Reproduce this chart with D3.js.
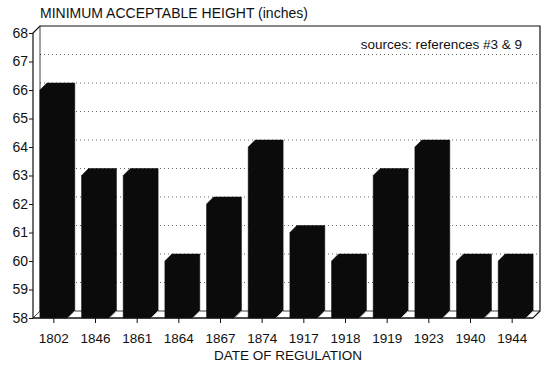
<!DOCTYPE html>
<html>
<head>
<meta charset="utf-8">
<script src="https://cdn.jsdelivr.net/npm/d3@7"></script>
<style>
  body { margin: 0; background: #fff; }
  svg { display: block; font-family: "Liberation Sans", Arial, Helvetica, sans-serif; }
</style>
</head>
<body>
<div class="chart"></div>
<script>
// chart data
const years = ['1802', '1846', '1861', '1864', '1867', '1874', '1917', '1918', '1919', '1923', '1940', '1944'];
const heights = [66, 63, 63, 60, 62, 64, 61, 60, 63, 64, 60, 60];
const yTicks = [58, 59, 60, 61, 62, 63, 64, 65, 66, 67, 68];

const width = 550, height = 367;
const depth = 7; // 3d offset
const plotLeft = 33, plotRight = 533, plotBottom = 318, plotTop = 33;

const svg = d3.select('.chart').append('svg')
  .attr('width', width)
  .attr('height', height);

const x = d3.scaleBand().domain(years).range([plotLeft, plotRight])
  .paddingInner(0.33).paddingOuter(0.165);
const y = d3.scaleLinear().domain([58, 68]).range([plotBottom, plotTop]);

// back wall gridlines (dotted)
svg.append('g').selectAll('line').data(yTicks.slice(1, -1)).enter().append('line')
  .attr('x1', plotLeft + depth).attr('x2', plotRight + depth)
  .attr('y1', d => y(d) - depth).attr('y2', d => y(d) - depth)
  .attr('stroke', '#666').attr('stroke-width', 1)
  .attr('stroke-dasharray', '1,3');

// frame: axis, back wall and floor outline
const frame = svg.append('g').attr('fill', 'none').attr('stroke', '#111').attr('stroke-width', 1.2);
frame.append('path').attr('d',
  'M' + plotLeft + ',' + plotBottom + 'L' + plotLeft + ',' + plotTop +
  'L' + (plotLeft + depth) + ',' + (plotTop - depth) +
  'L' + (plotRight + depth) + ',' + (plotTop - depth) +
  'L' + (plotRight + depth) + ',' + (plotBottom - depth) +
  'L' + plotRight + ',' + plotBottom + 'Z');
frame.append('path').attr('d',
  'M' + (plotLeft + depth) + ',' + (plotTop - depth) + 'L' + (plotLeft + depth) + ',' + (plotBottom - depth) +
  'L' + (plotRight + depth) + ',' + (plotBottom - depth) +
  'M' + plotLeft + ',' + plotBottom + 'L' + (plotLeft + depth) + ',' + (plotBottom - depth))
  .attr('stroke-width', 0.8);

// bars with a top face and right side
const bw = x.bandwidth();
svg.append('g').selectAll('.bar').data(years).enter().append('path')
  .attr('class', 'bar')
  .attr('fill', '#0b0b0b')
  .attr('stroke', '#0b0b0b')
  .attr('stroke-width', 0.5)
  .attr('d', function(d, i) {
    const x0 = x(d), x1 = x(d) + bw, vy = y(heights[i]);
    return 'M' + x0 + ',' + plotBottom + 'L' + x0 + ',' + vy +
      'L' + (x0 + depth) + ',' + (vy - depth) +
      'L' + (x1 + depth) + ',' + (vy - depth) +
      'L' + (x1 + depth) + ',' + (plotBottom - depth) +
      'L' + x1 + ',' + plotBottom + 'Z';
  });

// floor edges in front of bars
svg.append('g').selectAll('line').data(years).enter().append('line')
  .attr('x1', d => x(d) + bw).attr('y1', plotBottom)
  .attr('x2', d => x(d) + bw + depth).attr('y2', plotBottom - depth)
  .attr('stroke', '#fff').attr('stroke-width', 0.8);
svg.append('line').attr('x1', plotLeft).attr('x2', plotRight)
  .attr('y1', plotBottom).attr('y2', plotBottom)
  .attr('stroke', '#111').attr('stroke-width', 1.2);

// y axis
const yAxis = svg.append('g')
  .attr('transform', 'translate(' + plotLeft + ',0)')
  .call(d3.axisLeft(y).tickValues(yTicks).tickSize(4).tickPadding(1).tickSizeOuter(0));
yAxis.select('.domain').remove();
yAxis.selectAll('text').attr('font-size', '14px').attr('fill', '#111').attr('font-family', null);
yAxis.selectAll('line').attr('stroke', '#111');

// x axis
const xAxis = svg.append('g')
  .attr('transform', 'translate(0,' + plotBottom + ')')
  .call(d3.axisBottom(x).tickSize(5).tickPadding(10).tickSizeOuter(0));
xAxis.select('.domain').remove();
xAxis.selectAll('text').attr('font-size', '13.5px').attr('fill', '#111').attr('font-family', null);
xAxis.selectAll('line').attr('stroke', '#111');

// titles
svg.append('text').attr('x', 40).attr('y', 18)
  .attr('font-size', '14px').attr('fill', '#111')
  .text('MINIMUM ACCEPTABLE HEIGHT (inches)');
svg.append('text').attr('x', 522).attr('y', 49)
  .attr('text-anchor', 'end').attr('font-size', '13.5px').attr('fill', '#111')
  .text('sources: references #3 & 9');
svg.append('text').attr('x', 288).attr('y', 360)
  .attr('text-anchor', 'middle').attr('font-size', '13.5px').attr('fill', '#111')
  .text('DATE OF REGULATION');
</script>
</body>
</html>
